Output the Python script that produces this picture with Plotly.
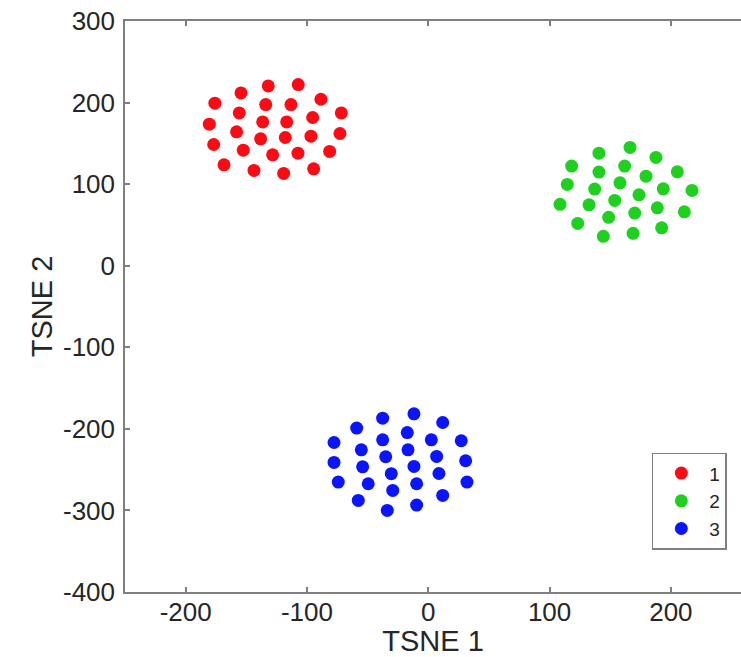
import plotly.graph_objects as go

# Cluster 1 (red)
c1_x = [-131.9, -107.2, -154.4, -175.9, -134.0, -113.2, -88.5, -155.8, -71.7,
        -180.5, -136.5, -116.7, -95.3, -158.0, -72.8, -176.9, -138.2, -117.9,
        -96.7, -152.5, -128.3, -107.4, -81.3, -168.4, -143.7, -119.2, -94.5]
c1_y = [220.4, 222.1, 211.8, 199.2, 197.6, 197.6, 204.1, 187.3, 187.3,
        173.5, 176.3, 176.3, 181.7, 164.1, 162.1, 148.6, 155.5, 157.2,
        158.8, 141.7, 135.9, 138.0, 140.1, 123.7, 116.8, 113.2, 118.8]

# Cluster 2 (green)
c2_x = [166.3, 140.7, 187.7, 118.2, 161.9, 140.7, 205.3, 179.5, 114.6, 158.0,
        137.2, 193.7, 217.4, 173.7, 108.6, 132.5, 153.7, 188.8, 170.2, 211.1,
        148.7, 123.2, 192.4, 168.8, 144.3]
c2_y = [145.0, 138.0, 132.7, 122.1, 122.1, 114.8, 115.1, 109.8, 99.7, 101.6,
        93.9, 94.3, 92.3, 86.9, 75.2, 74.7, 80.1, 71.0, 64.5, 66.1,
        59.3, 51.9, 46.5, 39.7, 36.0]

# Cluster 3 (blue)
c3_x = [-37.6, -11.8, -59.0, 11.9, -77.7, -37.6, -17.3, 2.5, 27.2, -55.2,
        -16.7, -35.1, 6.9, -77.7, 30.8, -54.1, -11.8, -30.5, 8.8, -74.2,
        -49.5, -9.6, 31.9, -29.3, 11.9, -57.7, -9.6, -33.8]
c3_y = [-186.9, -181.6, -199.1, -192.2, -216.7, -213.4, -204.5, -213.4, -214.6, -225.7,
        -225.7, -234.2, -233.8, -241.2, -239.1, -246.5, -246.1, -255.0, -254.7, -265.2,
        -267.3, -267.3, -265.2, -275.5, -281.6, -287.7, -293.4, -300.0]

names = ["1", "2", "3"]
colors = ["#ff0a14", "#1fd11f", "#0a14ff"]
xs = [c1_x, c2_x, c3_x]
ys = [c1_y, c2_y, c3_y]

x_ticks = [-200, -100, 0, 100, 200]
x_ticktext = ["-200", "-100", "0", "100", "200"]
y_ticks = [300, 200, 100, 0, -100, -200, -300, -400]
y_ticktext = ["300", "200", "100", "0", "-100", "-200", "-300", "-400"]

FONT = "Liberation Sans, Arial, Helvetica, sans-serif"
TXT = "#262626"
LINE = "#808080"

fig = go.Figure()
for nm, cx, cy, col in zip(names, xs, ys, colors):
    fig.add_trace(go.Scatter(x=cx, y=cy, mode="markers", name=nm,
                             marker=dict(color=col, size=13, line=dict(width=0))))

fig.update_layout(
    width=741, height=657,
    margin=dict(l=125, r=0, t=21, b=65),
    paper_bgcolor="white", plot_bgcolor="white",
    font=dict(family=FONT, color=TXT, size=26),
    legend=dict(x=0.977, y=0.074, xanchor="right", yanchor="bottom",
                bordercolor=LINE, borderwidth=1.5, bgcolor="white",
                font=dict(size=19, color=TXT, family=FONT),
                itemwidth=46, tracegroupgap=0),
    showlegend=True,
)
fig.update_xaxes(range=[-250, 257.8], tickvals=x_ticks, ticktext=x_ticktext,
                 ticks="inside", ticklen=5, automargin=False,
                 tickcolor=LINE, tickwidth=1.5, showline=True, linecolor=LINE,
                 linewidth=1.5, mirror="ticks", showgrid=False, zeroline=False,
                 tickfont=dict(size=26, color=TXT), ticklabelstandoff=-4,
                 ticklabeloverflow="allow",
                 title=dict(text="TSNE 1", font=dict(size=29, color=TXT), standoff=6))
fig.update_yaxes(range=[-400, 300], tickvals=y_ticks, ticktext=y_ticktext,
                 ticks="inside", ticklen=5, automargin=False,
                 tickcolor=LINE, tickwidth=1.5, showline=True, linecolor=LINE,
                 linewidth=1.5, showgrid=False, zeroline=False,
                 tickfont=dict(size=26, color=TXT), ticklabelstandoff=3,
                 ticklabeloverflow="allow",
                 title=dict(text="TSNE 2", font=dict(size=29, color=TXT), standoff=2))

# remove the default 8px page margin so the figure fills the window exactly
fig.write_html("out.html",
               config={"displayModeBar": False},
               post_script="document.body.style.margin='0';document.body.style.overflow='hidden';")
